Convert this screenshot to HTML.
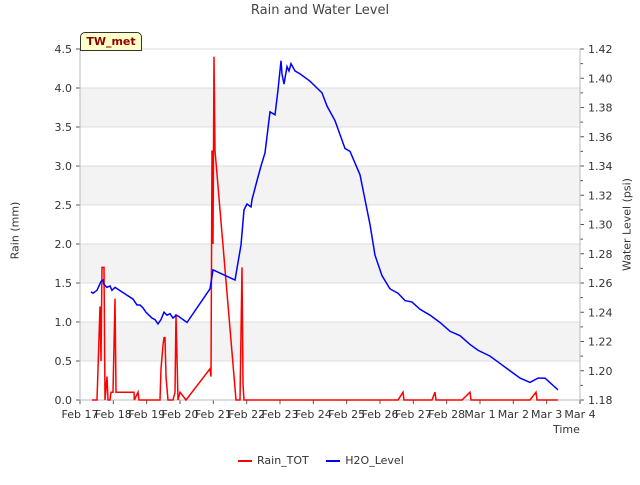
<!DOCTYPE html>
<html><head><meta charset="utf-8"><style>
body{margin:0;background:#fff;font-family:"Liberation Sans","DejaVu Sans",sans-serif;}
svg text{font-family:"DejaVu Sans","Liberation Sans",sans-serif;}
</style></head><body>
<svg id="c" width="640" height="480" xmlns="http://www.w3.org/2000/svg"></svg>
<script>
const dayLabels=["Feb 17","Feb 18","Feb 19","Feb 20","Feb 21","Feb 22","Feb 23","Feb 24","Feb 25","Feb 26","Feb 27","Feb 28","Mar 1","Mar 2","Mar 3","Mar 4"];
const rainTicks=[0,0.5,1,1.5,2,2.5,3,3.5,4,4.5];
const levelTicks=[1.18,1.2,1.22,1.24,1.26,1.28,1.3,1.32,1.34,1.36,1.38,1.4,1.42];
// time in days since Feb 17
const rainT=[0.36,0.51,0.6,0.63,0.66,0.72,0.75,0.81,0.84,0.9,0.93,0.99,1.05,1.08,1.62,1.63,1.74,1.77,2.4,2.43,2.49,2.52,2.55,2.58,2.64,2.79,2.85,2.88,2.94,3.0,3.18,3.9,3.93,3.96,3.99,4.02,4.05,4.68,4.8,4.86,4.89,4.92,9.54,9.69,9.72,10.56,10.65,10.68,11.46,11.7,11.73,13.5,13.68,13.71,14.34];
const rainV=[0,0,1.2,0.5,1.7,1.7,0,0.3,0,0,0.1,0.1,1.3,0.1,0.1,0,0.1,0,0,0.4,0.7,0.8,0.8,0.3,0,0,0.1,1.1,0,0.1,0,0.4,0.3,3.2,2.0,4.4,3.2,0,0,1.7,0.2,0,0,0.1,0,0,0.1,0,0,0.1,0,0,0.1,0,0];
const levelT=[0.33,0.39,0.51,0.63,0.69,0.72,0.81,0.9,0.96,1.05,1.59,1.71,1.8,1.89,1.98,2.07,2.16,2.25,2.34,2.43,2.52,2.61,2.7,2.79,2.88,2.97,3.21,3.9,3.99,4.65,4.71,4.83,4.92,5.01,5.13,5.16,5.31,5.43,5.55,5.7,5.85,5.94,6.03,6.06,6.12,6.21,6.27,6.33,6.45,6.6,6.9,7.26,7.41,7.65,7.95,8.1,8.4,8.55,8.7,8.85,9.06,9.3,9.54,9.75,9.96,10.2,10.5,10.8,11.1,11.4,11.7,11.94,12.3,12.6,12.9,13.2,13.5,13.74,13.95,14.19,14.34];
const levelV=[1.254,1.253,1.255,1.261,1.262,1.259,1.257,1.258,1.255,1.257,1.249,1.245,1.245,1.243,1.24,1.238,1.236,1.235,1.232,1.235,1.24,1.238,1.239,1.236,1.238,1.237,1.233,1.256,1.269,1.262,1.27,1.286,1.31,1.314,1.312,1.317,1.33,1.34,1.349,1.377,1.375,1.392,1.412,1.403,1.396,1.408,1.405,1.41,1.405,1.403,1.398,1.39,1.381,1.371,1.352,1.35,1.334,1.317,1.3,1.279,1.265,1.256,1.253,1.248,1.247,1.242,1.238,1.233,1.227,1.224,1.218,1.214,1.21,1.205,1.2,1.195,1.192,1.195,1.195,1.19,1.187];
const L=80,R=580,T=49,B=400;
const X=t=>L+(R-L)*t/15;
const YR=v=>B-(B-T)*v/4.5;
const YL=v=>B-(B-T)*(v-1.18)/0.24;
const svg=document.getElementById('c');
const NS='http://www.w3.org/2000/svg';
function mk(tag,a,txt){const e=document.createElementNS(NS,tag);for(const k in a)e.setAttribute(k,a[k]);if(txt!==undefined)e.textContent=txt;svg.appendChild(e);return e;}
// bands
for(let i=0;i<9;i++){if(i%2==1){const b=mk('rect',{x:L,y:YR(rainTicks[i+1]),width:R-L,height:YR(rainTicks[i])-YR(rainTicks[i+1]),fill:'#f3f3f3'});

}}
rainTicks.forEach(v=>{const g=mk('line',{x1:L,x2:R,y1:YR(v),y2:YR(v),stroke:'#dcdcdc','stroke-width':1});


const tk=mk('line',{x1:L-4,x2:L,y1:YR(v),y2:YR(v),stroke:'#555'});


const tx=mk('text',{x:L-8,y:YR(v)+4,'text-anchor':'end','font-size':11,fill:'#333'},v.toFixed(1));

});
levelTicks.forEach((v,i)=>{const tk=mk('line',{x1:R,x2:R+4,y1:YL(v),y2:YL(v),stroke:'#555'});


const tx=mk('text',{x:R+8,y:YL(v)+4,'font-size':11,fill:'#333'},v.toFixed(2));


if(i<levelTicks.length-1){const m=mk('line',{x1:R,x2:R+3,y1:YL(v+0.01),y2:YL(v+0.01),stroke:'#555'});

}});
dayLabels.forEach((d,i)=>{const tk=mk('line',{x1:X(i),x2:X(i),y1:B,y2:B+4,stroke:'#555'});


const tx=mk('text',{x:X(i),y:B+18,'text-anchor':'middle','font-size':11,fill:'#333'},d);

});
const ax=mk('path',{d:`M${L},${T}V${B}H${R}V${T}`,fill:'none',stroke:'#bbb'});


const rp=mk('polyline',{points:rainT.map((t,i)=>X(t)+','+YR(rainV[i])).join(' '),fill:'none',stroke:'#f00','stroke-width':1.5});


const lp=mk('polyline',{points:levelT.map((t,i)=>X(t)+','+YL(levelV[i])).join(' '),fill:'none',stroke:'#00f','stroke-width':1.5});


</script>
<div style="position:absolute;left:0;top:3px;width:640px;text-align:center;font-size:13px;color:#444;font-family:'DejaVu Sans',sans-serif">Rain and Water Level</div>
<div style="position:absolute;left:80px;top:32px;width:60px;height:17px;background:#ffffc8;border:1px solid #333;border-radius:5px 5px 0 0;font-size:11px;font-weight:bold;color:#8b0000;text-align:center;line-height:17px;font-family:'DejaVu Sans',sans-serif">TW_met</div>
<div style="position:absolute;left:-15px;top:224px;width:60px;text-align:center;transform:rotate(-90deg);font-size:11px;color:#333;font-family:'DejaVu Sans',sans-serif">Rain (mm)</div>
<div style="position:absolute;left:577px;top:218px;width:100px;text-align:center;transform:rotate(-90deg);font-size:11px;color:#333;font-family:'DejaVu Sans',sans-serif">Water Level (psi)</div>
<div style="position:absolute;left:553px;top:423px;font-size:11px;color:#333;font-family:'DejaVu Sans',sans-serif">Time</div>
<div style="position:absolute;left:238px;top:454px;font-size:11px;color:#333;font-family:'DejaVu Sans',sans-serif;white-space:nowrap">
<span><span style="display:inline-block;width:14px;height:2px;background:#f00;vertical-align:middle;margin-right:5px"></span>Rain_TOT</span>
<span style="margin-left:14px"><span style="display:inline-block;width:14px;height:2px;background:#00f;vertical-align:middle;margin-right:5px"></span>H2O_Level</span>
</div>
</body></html>
